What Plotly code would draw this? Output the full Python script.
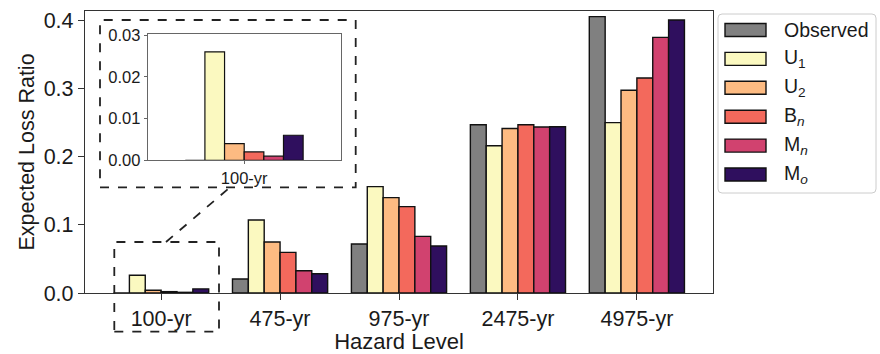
import plotly.graph_objects as go

# ---------------- data ----------------
hazard_levels = ["100-yr", "475-yr", "975-yr", "2475-yr", "4975-yr"]
series_names = ["Observed", "U<sub>1</sub>", "U<sub>2</sub>",
                "B<sub><i>n</i></sub>", "M<sub><i>n</i></sub>", "M<sub><i>o</i></sub>"]
observed = [0.0, 0.0205, 0.0718, 0.2466, 0.405]
u1 = [0.026, 0.107, 0.1558, 0.2158, 0.2496]
u2 = [0.004, 0.0747, 0.1397, 0.2411, 0.297]
bn = [0.002, 0.0595, 0.1265, 0.2466, 0.315]
mn = [0.001, 0.0327, 0.083, 0.2432, 0.3746]
mo = [0.006, 0.0283, 0.0689, 0.2437, 0.400]
series_values = [observed, u1, u2, bn, mn, mo]
colors = ["#808080", "#FBF9C0", "#FDBB82", "#F3695C", "#D1426F", "#2F0F5E"]
main_ticks = [0.0, 0.1, 0.2, 0.3, 0.4]
inset_ticks = [0.00, 0.01, 0.02, 0.03]

# ---------------- layout geometry (pixels) ----------------
W, H = 880, 354
L, R, T, B = 85, 713, 11, 293  # plot area in pixels
FONT = "Liberation Sans, Arial, Helvetica, sans-serif"
TXT = "#1a1a1a"


def px(x):
    return (x - L) / (R - L)


def py(y):
    return (B - y) / (B - T)


fig = go.Figure()

# main bars
for name, vals, c in zip(series_names, series_values, colors):
    fig.add_trace(go.Bar(
        x=hazard_levels, y=vals, name=name, marker_color=c,
        marker_line_color="#111111", marker_line_width=1.4,
        showlegend=False, xaxis="x", yaxis="y",
        hovertemplate="%{x}: %{y:.3f}<extra>" + name + "</extra>"))

# inset bars (100-yr only)
for name, vals, c in zip(series_names, series_values, colors):
    fig.add_trace(go.Bar(
        x=hazard_levels[:1], y=vals[:1], name=name, marker_color=c,
        marker_line_color="#111111", marker_line_width=1.2,
        showlegend=False, xaxis="x2", yaxis="y2",
        hovertemplate="%{x}: %{y:.4f}<extra>" + name + "</extra>"))

shapes = []
annotations = []
dash_line = dict(color="#222222", width=1.8, dash="dash")

# dashed box around inset
shapes.append(dict(type="rect", xref="paper", yref="paper",
                   x0=px(100), x1=px(355.7), y0=py(187.3), y1=py(20),
                   line=dash_line, fillcolor="rgba(0,0,0,0)", layer="above"))
# dashed box around the 100-yr group
shapes.append(dict(type="rect", xref="paper", yref="paper",
                   x0=px(114.3), x1=px(219), y0=py(331.7), y1=py(242),
                   line=dash_line, fillcolor="rgba(0,0,0,0)", layer="above"))
# connector
shapes.append(dict(type="line", xref="paper", yref="paper",
                   x0=px(166), y0=py(242), x1=px(230), y1=py(187.3),
                   line=dash_line, layer="above"))

# custom legend box with rounded corners
lx0, lx1, ly0, ly1, rr = 718, 876, 14, 193, 4
path = (f"M{px(lx0 + rr)},{py(ly0)} L{px(lx1 - rr)},{py(ly0)} "
        f"Q{px(lx1)},{py(ly0)} {px(lx1)},{py(ly0 + rr)} "
        f"L{px(lx1)},{py(ly1 - rr)} Q{px(lx1)},{py(ly1)} {px(lx1 - rr)},{py(ly1)} "
        f"L{px(lx0 + rr)},{py(ly1)} Q{px(lx0)},{py(ly1)} {px(lx0)},{py(ly1 - rr)} "
        f"L{px(lx0)},{py(ly0 + rr)} Q{px(lx0)},{py(ly0)} {px(lx0 + rr)},{py(ly0)} Z")
shapes.append(dict(type="path", xref="paper", yref="paper", path=path,
                   line=dict(color="#cccccc", width=1), fillcolor="white"))

for i, (name, c) in enumerate(zip(series_names, colors)):
    cy = 30 + i * 28.9
    shapes.append(dict(type="rect", xref="paper", yref="paper",
                       x0=px(725), x1=px(766), y0=py(cy + 6.5), y1=py(cy - 6.5),
                       fillcolor=c, line=dict(color="#111111", width=1.4)))
    annotations.append(dict(text=name, xref="paper", yref="paper",
                            x=px(782), y=py(cy), xanchor="left", yanchor="middle",
                            showarrow=False, font=dict(size=19.5, family=FONT, color=TXT)))

axis_common = dict(showline=True, mirror=True, ticks="outside",
                   showgrid=False, zeroline=False, automargin=False)

fig.update_layout(
    width=W, height=H,
    margin=dict(l=L, r=W - R, t=T, b=H - B, pad=0, autoexpand=False),
    paper_bgcolor="white", plot_bgcolor="white",
    barmode="group", bargap=0.2, bargroupgap=0,
    font=dict(family=FONT, color=TXT),
    xaxis=dict(**axis_common, type="category", categoryorder="array",
               categoryarray=hazard_levels, range=[-0.64, 4.64],
               linecolor="#333333", linewidth=1.3, tickcolor="#333333", ticklen=6,
               tickfont=dict(size=21.5),
               title=dict(text="Hazard Level", font=dict(size=22), standoff=0)),
    yaxis=dict(**axis_common, range=[0, 0.4132], tickvals=main_ticks,
               tickformat=".1f",
               linecolor="#333333", linewidth=1.3, tickcolor="#333333", ticklen=6,
               tickfont=dict(size=21.5),
               title=dict(text="Expected Loss Ratio", font=dict(size=21.5), standoff=3)),
    xaxis2=dict(**axis_common, type="category", anchor="y2",
                domain=[px(147.7), px(340.7)], range=[-0.655, 0.655],
                linecolor="#666666", linewidth=1, tickcolor="#666666", ticklen=3,
                tickfont=dict(size=16.5)),
    yaxis2=dict(**axis_common, anchor="x2",
                domain=[py(160.3), py(34.3)], range=[0, 0.0302],
                tickvals=inset_ticks, tickformat=".2f",
                linecolor="#666666", linewidth=1, tickcolor="#666666", ticklen=3,
                tickfont=dict(size=16.5)),
    shapes=shapes, annotations=annotations,
)

fig.write_html("out.html")
